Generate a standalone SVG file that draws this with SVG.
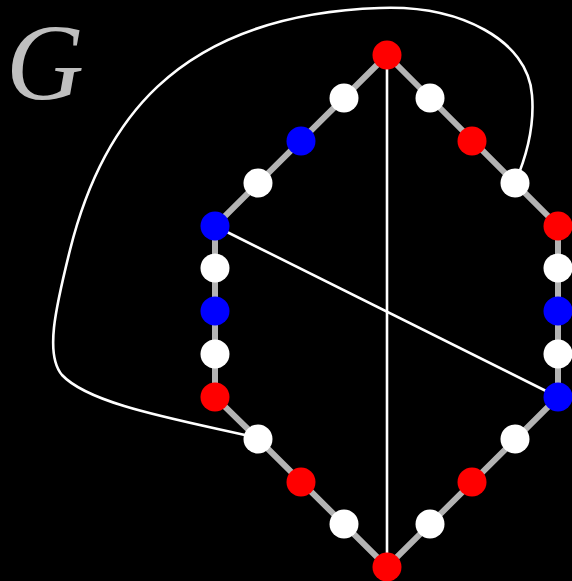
<svg xmlns="http://www.w3.org/2000/svg" width="572" height="581" viewBox="0 0 572 581">
<style>
.e{stroke:#b3b3b3;stroke-width:6;fill:none}
.c{stroke:#fff;stroke-width:2.6;fill:none}
.w{fill:#fff}.r{fill:#f00}.b{fill:#00f}
</style>
<rect width="572" height="581" fill="#000"/>
<text x="6" y="99" font-family="Liberation Serif, serif" font-style="italic" font-size="108" fill="#bfbfbf">G</text>
<g id="connectors">
<polyline class="e" points="387,55 215,226 215,397 258,439 387,567 558,397 558,226 387,55"/>
<line class="c" x1="387" y1="55" x2="387" y2="567"/>
<line class="c" x1="215" y1="226" x2="558" y2="397"/>
<path class="c" d="M258,438 C180,420 90,405 62,375 C45,355 55,310 70,250 C100,130 170,15 380,8 C460,5 528,40 532,95 C535,130 525,160 515,183"/>
</g>
<g id="n1"><circle class="r" cx="387" cy="55" r="14.5"/></g>
<g id="n2"><circle class="w" cx="344" cy="98" r="14.5"/></g>
<g id="n3"><circle class="b" cx="301" cy="141" r="14.5"/></g>
<g id="n4"><circle class="w" cx="258" cy="183" r="14.5"/></g>
<g id="n5"><circle class="b" cx="215" cy="226" r="14.5"/></g>
<g id="n6"><circle class="w" cx="215" cy="268" r="14.5"/></g>
<g id="n7"><circle class="b" cx="215" cy="311" r="14.5"/></g>
<g id="n8"><circle class="w" cx="215" cy="354" r="14.5"/></g>
<g id="n9"><circle class="r" cx="215" cy="397" r="14.5"/></g>
<g id="n10"><circle class="w" cx="258" cy="439" r="14.5"/></g>
<g id="n11"><circle class="r" cx="301" cy="482" r="14.5"/></g>
<g id="n12"><circle class="w" cx="344" cy="524" r="14.5"/></g>
<g id="n13"><circle class="r" cx="387" cy="567" r="14.5"/></g>
<g id="n14"><circle class="w" cx="430" cy="524" r="14.5"/></g>
<g id="n15"><circle class="r" cx="472" cy="482" r="14.5"/></g>
<g id="n16"><circle class="w" cx="515" cy="439" r="14.5"/></g>
<g id="n17"><circle class="b" cx="558" cy="397" r="14.5"/></g>
<g id="n18"><circle class="w" cx="558" cy="354" r="14.5"/></g>
<g id="n19"><circle class="b" cx="558" cy="311" r="14.5"/></g>
<g id="n20"><circle class="w" cx="558" cy="268" r="14.5"/></g>
<g id="n21"><circle class="r" cx="558" cy="226" r="14.5"/></g>
<g id="n22"><circle class="w" cx="515" cy="183" r="14.5"/></g>
<g id="n23"><circle class="r" cx="472" cy="141" r="14.5"/></g>
<g id="n24"><circle class="w" cx="430" cy="98" r="14.5"/></g>
</svg>
